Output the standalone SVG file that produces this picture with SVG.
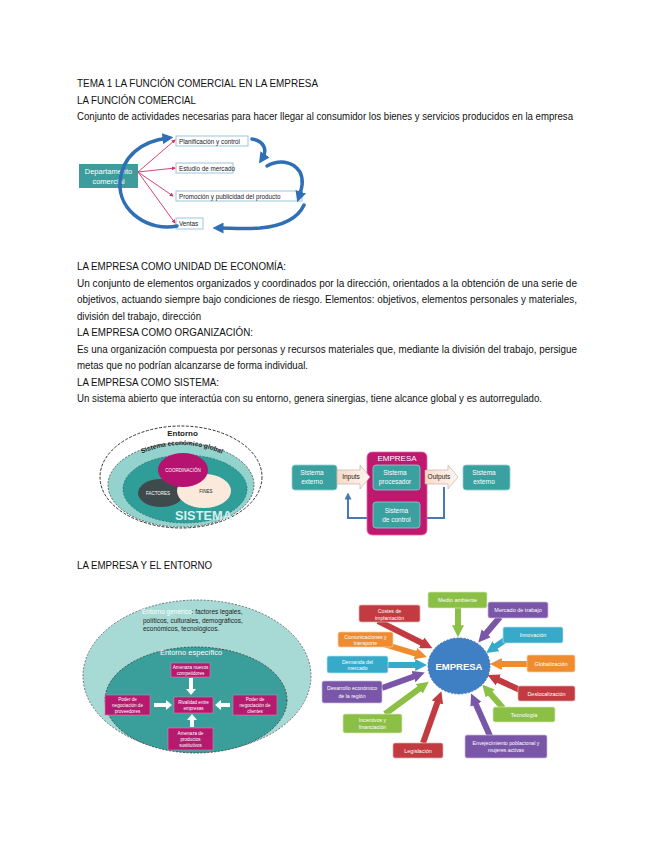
<svg xmlns="http://www.w3.org/2000/svg" width="655" height="848" viewBox="0 0 655 848">
<style>
.t{font-family:"Liberation Sans",Arial,sans-serif;font-size:10px;fill:#111}
.s{font-family:"Liberation Sans",Arial,sans-serif;fill:#fff;text-anchor:middle}
.d{font-family:"Liberation Sans",Arial,sans-serif;fill:#222}
.wb{fill:#fff;stroke:#9cc6e0;stroke-width:1}
.tb{fill:#3aa0a0;stroke:#8fd0cf;stroke-width:0.8}
.mg{fill:#b51a6e;stroke:#e07ab0;stroke-width:0.6}
.bl{fill:none;stroke:#2f6fb6;stroke-width:3.5;stroke-linecap:round}
.pk{stroke:#d0306a;stroke-width:0.9;fill:none}
.ra{stroke-width:6;fill:none}
</style>
<defs>
<marker id="mPk" viewBox="0 0 10 10" refX="8" refY="5" markerWidth="4" markerHeight="4" markerUnits="userSpaceOnUse" orient="auto"><path d="M0,0L10,5L0,10z" fill="#d0306a"/></marker>
<marker id="mBl" viewBox="0 0 10 10" refX="5" refY="5" markerWidth="11" markerHeight="11" markerUnits="userSpaceOnUse" orient="auto"><path d="M0,0L10,5L0,10z" fill="#2f6fb6"/></marker>
<marker id="mFb" viewBox="0 0 10 10" refX="5" refY="5" markerWidth="7" markerHeight="7" markerUnits="userSpaceOnUse" orient="auto"><path d="M0,0L10,5L0,10z" fill="#4a78b5"/></marker>
<marker id="mR" viewBox="0 0 10 10" refX="4" refY="5" markerWidth="12" markerHeight="12" markerUnits="userSpaceOnUse" orient="auto"><path d="M0,0L10,5L0,10z" fill="#c23b40"/></marker>
<marker id="mO" viewBox="0 0 10 10" refX="4" refY="5" markerWidth="12" markerHeight="12" markerUnits="userSpaceOnUse" orient="auto"><path d="M0,0L10,5L0,10z" fill="#f08c30"/></marker>
<marker id="mC" viewBox="0 0 10 10" refX="4" refY="5" markerWidth="12" markerHeight="12" markerUnits="userSpaceOnUse" orient="auto"><path d="M0,0L10,5L0,10z" fill="#36aac8"/></marker>
<marker id="mP" viewBox="0 0 10 10" refX="4" refY="5" markerWidth="12" markerHeight="12" markerUnits="userSpaceOnUse" orient="auto"><path d="M0,0L10,5L0,10z" fill="#7a56a8"/></marker>
<marker id="mG" viewBox="0 0 10 10" refX="4" refY="5" markerWidth="12" markerHeight="12" markerUnits="userSpaceOnUse" orient="auto"><path d="M0,0L10,5L0,10z" fill="#8cbf46"/></marker>
<linearGradient id="gIn" x1="0" y1="0" x2="1" y2="0"><stop offset="0" stop-color="#f9d9c6"/><stop offset="1" stop-color="#fff6f0"/></linearGradient>
<path id="arcSeg" d="M126,462 Q181,428 238,462"/>
</defs>

<g id="texts">
<text class="t" x="77" y="87" textLength="241" lengthAdjust="spacingAndGlyphs">TEMA 1  LA FUNCIÓN COMERCIAL EN LA EMPRESA</text>
<text class="t" x="77" y="104" textLength="119" lengthAdjust="spacingAndGlyphs">LA FUNCIÓN COMERCIAL</text>
<text class="t" x="77" y="120" textLength="496" lengthAdjust="spacingAndGlyphs">Conjunto de actividades necesarias para hacer llegar al consumidor los bienes y servicios producidos en la empresa</text>
<text class="t" x="77" y="270" textLength="209" lengthAdjust="spacingAndGlyphs">LA EMPRESA COMO UNIDAD DE ECONOMÍA:</text>
<text class="t" x="77" y="287" textLength="500" lengthAdjust="spacingAndGlyphs">Un conjunto de elementos organizados y coordinados por la dirección, orientados a la obtención de una serie de</text>
<text class="t" x="77" y="303" textLength="500" lengthAdjust="spacingAndGlyphs">objetivos, actuando siempre bajo condiciones de riesgo. Elementos: objetivos, elementos personales y materiales,</text>
<text class="t" x="77" y="320" textLength="124" lengthAdjust="spacingAndGlyphs">división del trabajo, dirección</text>
<text class="t" x="77" y="336" textLength="176" lengthAdjust="spacingAndGlyphs">LA EMPRESA COMO ORGANIZACIÓN:</text>
<text class="t" x="77" y="353" textLength="500" lengthAdjust="spacingAndGlyphs">Es una organización compuesta por personas y recursos materiales que, mediante la división del trabajo, persigue</text>
<text class="t" x="77" y="369" textLength="231" lengthAdjust="spacingAndGlyphs">metas que no podrían alcanzarse de forma individual.</text>
<text class="t" x="77" y="386" textLength="142" lengthAdjust="spacingAndGlyphs">LA EMPRESA COMO SISTEMA:</text>
<text class="t" x="77" y="402" textLength="465" lengthAdjust="spacingAndGlyphs">Un sistema abierto que interactúa con su entorno, genera sinergias, tiene alcance global y es autorregulado.</text>
<text class="t" x="77" y="569" textLength="135" lengthAdjust="spacingAndGlyphs">LA EMPRESA Y EL ENTORNO</text>
</g>

<!-- Diagram 1: función comercial -->
<g id="node-departamento">
<rect x="79" y="164" width="59" height="24" fill="#3d9c9c"/>
<text class="s" x="108.5" y="174" font-size="7.5">Departamento</text>
<text class="s" x="108.5" y="184" font-size="7.5">comercial</text>
</g>
<g id="node-planificacion"><rect class="wb" x="176" y="136" width="72" height="10"/><text class="d" x="179" y="143.5" font-size="6.3">Planificación y control</text></g>
<g id="node-estudio"><rect class="wb" x="176" y="163" width="57" height="10"/><text class="d" x="179" y="170.5" font-size="6.3">Estudio de mercado</text></g>
<g id="node-promocion"><rect class="wb" x="176" y="191" width="126" height="10"/><text class="d" x="179" y="198.5" font-size="6.3">Promoción y publicidad del producto</text></g>
<g id="node-ventas"><rect class="wb" x="176" y="218" width="27" height="11"/><text class="d" x="179" y="226" font-size="6.3">Ventas</text></g>
<g id="connectors-comercial">
<path class="pk" d="M138,172 L175,140" marker-end="url(#mPk)"/>
<path class="pk" d="M138,172 L175,168" marker-end="url(#mPk)"/>
<path class="pk" d="M138,172 L173,196" marker-end="url(#mPk)"/>
<path class="pk" d="M138,172 L175,223" marker-end="url(#mPk)"/>
<path class="bl" d="M177,226 C150,232 118,212 120,182 C122,156 142,141 168,138" marker-end="url(#mBl)"/>
<path class="bl" d="M252,139 C264,141 268,150 262,159" marker-end="url(#mBl)"/>
<path class="bl" d="M267,166 C278,160 292,160 300,172 C304,180 302,188 299,197" marker-end="url(#mBl)"/>
<path class="bl" d="M304,205 C298,218 282,226 260,228 C244,229 230,228 218,228" marker-end="url(#mBl)"/>
</g>

<!-- Diagram 2: sistema -->
<g id="node-entorno-sistema">
<ellipse cx="181" cy="477" rx="81" ry="51" fill="#fff" stroke="#333" stroke-width="1" stroke-dasharray="3,1.5"/>
<ellipse cx="181" cy="485" rx="73" ry="42" fill="#93d2cd" stroke="#444" stroke-width="0.8" stroke-dasharray="2,1.5"/>
<rect x="167" y="428" width="31" height="10" fill="#fff"/>
<text class="d" x="182.5" y="436" font-size="8" font-weight="bold" text-anchor="middle">Entorno</text>
<text class="d" font-size="6.5" font-weight="bold"><textPath href="#arcSeg" startOffset="50%" text-anchor="middle">Sistema económico global</textPath></text>
<ellipse cx="185" cy="489" rx="62" ry="34" fill="#2f9e98" stroke="#1f6f6b" stroke-width="0.7" stroke-dasharray="2,1.5"/>
</g>
<g id="node-factores"><ellipse cx="161" cy="493" rx="23" ry="14" fill="#3f4a4c"/><text class="s" x="158" y="495" font-size="4.5">FACTORES</text></g>
<g id="node-fines"><ellipse cx="204" cy="491" rx="27" ry="17" fill="#fbe9dc"/><text class="d" x="206" y="493" font-size="4.5" text-anchor="middle">FINES</text></g>
<g id="node-coordinacion"><ellipse cx="183" cy="470" rx="25" ry="17" fill="#b5136f"/><text class="s" x="183" y="472" font-size="4.5">COORDINACIÓN</text></g>
<text class="s" x="203.5" y="520" font-size="13" font-weight="bold" textLength="57" lengthAdjust="spacingAndGlyphs" style="fill:#d4f0f2">SISTEMA</text>

<!-- Diagram 3: empresa como sistema -->
<g id="connectors-sistema">
<path d="M373,518 L348,518 L348,496" fill="none" stroke="#4a78b5" stroke-width="2" marker-end="url(#mFb)"/>
<path d="M420,518 L444,518 L444,487" fill="none" stroke="#4a78b5" stroke-width="2"/>
</g>
<g id="node-empresa-box">
<rect x="367" y="452" width="60" height="83" rx="5" fill="#c0176f" stroke="#e66aa8" stroke-width="0.8"/>
<text class="s" x="397" y="461" font-size="8">EMPRESA</text>
</g>
<g id="node-ext-in"><rect class="tb" x="292" y="465" width="45" height="25" rx="3"/><text class="s" x="312" y="475" font-size="6.5">Sistema</text><text class="s" x="312" y="484" font-size="6.5">externo</text></g>
<g id="node-inputs"><polygon points="337,470 360,470 360,465 370,477 360,489 360,484 337,484" fill="url(#gIn)" stroke="#b9a9a0" stroke-width="0.6"/><text class="d" x="351" y="479" font-size="6.5" text-anchor="middle">Inputs</text></g>
<g id="node-procesador"><rect class="tb" x="373" y="465" width="47" height="25" rx="3"/><text class="s" x="395" y="475" font-size="6.5">Sistema</text><text class="s" x="395" y="484" font-size="6.5">procesador</text></g>
<g id="node-control"><rect class="tb" x="373" y="502" width="47" height="26" rx="3"/><text class="s" x="396.5" y="513" font-size="6.5">Sistema</text><text class="s" x="396.5" y="522" font-size="6.5">de control</text></g>
<g id="node-outputs"><polygon points="425,470 448,470 448,465 458,477 448,489 448,484 425,484" fill="url(#gIn)" stroke="#b9a9a0" stroke-width="0.6"/><text class="d" x="439" y="479" font-size="6.5" text-anchor="middle">Outputs</text></g>
<g id="node-ext-out"><rect class="tb" x="463" y="465" width="47" height="25" rx="3"/><text class="s" x="484" y="475" font-size="6.5">Sistema</text><text class="s" x="484" y="484" font-size="6.5">externo</text></g>

<!-- Diagram 4: entorno genérico / específico -->
<g id="node-entorno-generico">
<ellipse cx="197" cy="676" rx="114" ry="76" fill="#a8dad5" stroke="#556" stroke-width="0.8" stroke-dasharray="2,1.5"/>
<text class="d" x="142" y="614" font-size="6.5"><tspan fill="#fff">Entorno genérico</tspan>: factores legales,</text>
<text class="d" x="143" y="622.5" font-size="6.5">políticos, culturales, demográficos,</text>
<text class="d" x="143" y="631" font-size="6.5">económicos, tecnológicos.</text>
</g>
<g id="node-entorno-especifico">
<ellipse cx="196" cy="700" rx="91" ry="53" fill="#3a9e9a" stroke="#333" stroke-width="0.8" stroke-dasharray="2,1.5"/>
<text class="s" x="191" y="655" font-size="7.5">Entorno específico</text>
</g>
<g id="connectors-porter" fill="#fff">
<polygon points="189,678 193,678 193,689 196,689 191,695 186,689 189,689"/>
<polygon points="154,703 166,703 166,700 172,705 166,710 166,707 154,707"/>
<polygon points="230,703 221,703 221,700 215,705 221,710 221,707 230,707"/>
<polygon points="190,727 194,727 194,720 197,720 192,714 187,720 190,720"/>
</g>
<g id="node-amenaza-nuevos"><rect class="mg" x="171" y="663" width="39" height="14"/><text class="s" x="190.5" y="669" font-size="4.6">Amenaza nuevos</text><text class="s" x="190.5" y="675" font-size="4.6">competidores</text></g>
<g id="node-rivalidad"><rect class="mg" x="174" y="697" width="39" height="16"/><text class="s" x="193.5" y="704" font-size="4.6">Rivalidad entre</text><text class="s" x="193.5" y="710" font-size="4.6">empresas</text></g>
<g id="node-poder-prov"><rect class="mg" x="105" y="695" width="45" height="20"/><text class="s" x="127.5" y="701" font-size="4.6">Poder de</text><text class="s" x="127.5" y="707" font-size="4.6">negociación de</text><text class="s" x="127.5" y="713" font-size="4.6">proveedores</text></g>
<g id="node-poder-cli"><rect class="mg" x="233" y="695" width="44" height="20"/><text class="s" x="255" y="701" font-size="4.6">Poder de</text><text class="s" x="255" y="707" font-size="4.6">negociación de</text><text class="s" x="255" y="713" font-size="4.6">clientes</text></g>
<g id="node-sustitutivos"><rect class="mg" x="168" y="728" width="45" height="22"/><text class="s" x="190.5" y="735" font-size="4.6">Amenaza de</text><text class="s" x="190.5" y="741" font-size="4.6">productos</text><text class="s" x="190.5" y="747" font-size="4.6">sustitutivos</text></g>

<!-- Diagram 5: factores del entorno (radial) -->
<g id="connectors-radial">
<path class="ra" stroke="#8cbf46" d="M458,608 L458,630" marker-end="url(#mG)"/>
<path class="ra" stroke="#7a56a8" d="M500,617 L483,637" marker-end="url(#mP)"/>
<path class="ra" stroke="#36aac8" d="M505,640 L492,649" marker-end="url(#mC)"/>
<path class="ra" stroke="#f08c30" d="M527,664 L497,664" marker-end="url(#mO)"/>
<path class="ra" stroke="#c23b40" d="M520,690 L494,678" marker-end="url(#mR)"/>
<path class="ra" stroke="#8cbf46" d="M503,708 L487,690" marker-end="url(#mG)"/>
<path class="ra" stroke="#7a56a8" d="M490,736 L474,700" marker-end="url(#mP)"/>
<path class="ra" stroke="#c23b40" d="M423,743 L439,698" marker-end="url(#mR)"/>
<path class="ra" stroke="#8cbf46" d="M385,714 L423,686" marker-end="url(#mG)"/>
<path class="ra" stroke="#7a56a8" d="M382,688 L418,675" marker-end="url(#mP)"/>
<path class="ra" stroke="#36aac8" d="M388,665 L420,665" marker-end="url(#mC)"/>
<path class="ra" stroke="#f08c30" d="M370,640 L420,655" marker-end="url(#mO)"/>
<path class="ra" stroke="#c23b40" d="M378,621 L426,645" marker-end="url(#mR)"/>
</g>
<g id="node-empresa-radial">
<ellipse cx="459" cy="666" rx="31" ry="28" fill="#3f7fc4" stroke="#2a5d96" stroke-width="0.8" stroke-dasharray="2,1.5"/>
<text class="s" x="459" y="669.5" font-size="9.5" font-weight="bold">EMPRESA</text>
</g>
<g id="node-medio-ambiente"><rect x="428" y="592" width="59" height="16" rx="2" fill="#8cbf46" stroke="#d6eabb" stroke-width="0.7"/><text class="s" x="457.5" y="602" font-size="5.5">Medio ambiente</text></g>
<g id="node-mercado-trabajo"><rect x="488" y="602" width="60" height="16" rx="2" fill="#7a56a8" stroke="#cbb9e0" stroke-width="0.7"/><text class="s" x="518" y="612" font-size="5.5">Mercado de trabajo</text></g>
<g id="node-innovacion"><rect x="503" y="627" width="60" height="16" rx="2" fill="#36aac8" stroke="#b6e2ee" stroke-width="0.7"/><text class="s" x="533" y="637" font-size="5.5">Innovación</text></g>
<g id="node-globalizacion"><rect x="527" y="655" width="48" height="17" rx="2" fill="#f08c30" stroke="#fbd0a5" stroke-width="0.7"/><text class="s" x="551" y="665.5" font-size="5.5">Globalización</text></g>
<g id="node-deslocalizacion"><rect x="518" y="686" width="57" height="15" rx="2" fill="#c23b40" stroke="#eab0b2" stroke-width="0.7"/><text class="s" x="546.5" y="695.5" font-size="5.5">Deslocalización</text></g>
<g id="node-tecnologia"><rect x="493" y="707" width="62" height="15" rx="2" fill="#8cbf46" stroke="#d6eabb" stroke-width="0.7"/><text class="s" x="524" y="716.5" font-size="5.5">Tecnología</text></g>
<g id="node-envejecimiento"><rect x="465" y="735" width="82" height="23" rx="2" fill="#7a56a8" stroke="#cbb9e0" stroke-width="0.7"/><text class="s" x="506" y="744.5" font-size="5.2">Envejecimiento poblacional y</text><text class="s" x="506" y="752" font-size="5.2">mujeres activas</text></g>
<g id="node-legislacion"><rect x="393" y="743" width="50" height="15" rx="2" fill="#c23b40" stroke="#eab0b2" stroke-width="0.7"/><text class="s" x="418" y="752.5" font-size="5.5">Legislación</text></g>
<g id="node-incentivos"><rect x="343" y="714" width="59" height="19" rx="2" fill="#8cbf46" stroke="#d6eabb" stroke-width="0.7"/><text class="s" x="372.5" y="722" font-size="5.2">Incentivos y</text><text class="s" x="372.5" y="729" font-size="5.2">financiación</text></g>
<g id="node-desarrollo"><rect x="322" y="681" width="60" height="22" rx="2" fill="#7a56a8" stroke="#cbb9e0" stroke-width="0.7"/><text class="s" x="352" y="690" font-size="5.2">Desarrollo económico</text><text class="s" x="352" y="697.5" font-size="5.2">de la región</text></g>
<g id="node-demanda"><rect x="327" y="656" width="61" height="17" rx="2" fill="#36aac8" stroke="#b6e2ee" stroke-width="0.7"/><text class="s" x="357.5" y="663.5" font-size="5.2">Demanda del</text><text class="s" x="357.5" y="670" font-size="5.2">mercado</text></g>
<g id="node-comunicaciones"><rect x="338" y="632" width="55" height="15" rx="2" fill="#f08c30" stroke="#fbd0a5" stroke-width="0.7"/><text class="s" x="365.5" y="638.5" font-size="5.2">Comunicaciones y</text><text class="s" x="365.5" y="645" font-size="5.2">transporte</text></g>
<g id="node-costes"><rect x="359" y="605" width="61" height="17" rx="2" fill="#c23b40" stroke="#eab0b2" stroke-width="0.7"/><text class="s" x="389.5" y="612.5" font-size="5.2">Costes de</text><text class="s" x="389.5" y="619.5" font-size="5.2">implantación</text></g>
</svg>
